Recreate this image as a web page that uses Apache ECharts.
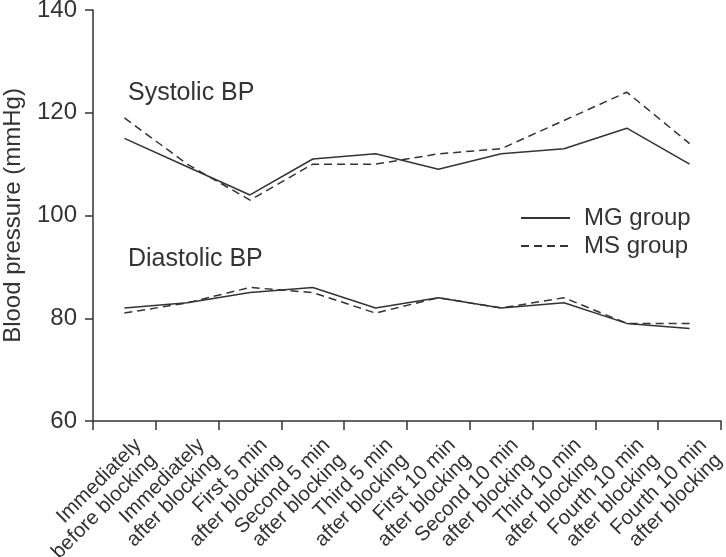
<!DOCTYPE html>
<html>
<head>
<meta charset="utf-8">
<script src="https://cdn.jsdelivr.net/npm/echarts@6/dist/echarts.min.js"></script>
<style>
html,body{margin:0;padding:0;background:#fff;}
#chart{width:726px;height:557px;}
</style>
</head>
<body>
<div id="chart"></div>
<script>
var categories = [
  "Immediately\nbefore blocking",
  "Immediately\nafter blocking",
  "First 5 min\nafter blocking",
  "Second 5 min\nafter blocking",
  "Third 5 min\nafter blocking",
  "First 10 min\nafter blocking",
  "Second 10 min\nafter blocking",
  "Third 10 min\nafter blocking",
  "Fourth 10 min\nafter blocking",
  "Fourth 10 min\nafter blocking"
];
var mgSystolic  = [115, 109.5, 104, 111, 112, 109, 112, 113, 117, 110];
var msSystolic  = [119, 110, 103, 110, 110, 112, 113, 118.5, 124, 114];
var mgDiastolic = [82, 83, 85, 86, 82, 84, 82, 83, 79, 78];
var msDiastolic = [81, 83, 86, 85, 81, 84, 82, 84, 79, 79];
var yTicks = [60, 80, 100, 120, 140];

var FONT = '"Liberation Sans", Arial, Helvetica, sans-serif';
var INK = '#333333';

var chart = echarts.init(document.getElementById('chart'), null, {renderer: 'canvas'});
var solid = {color: INK, width: 1.5, type: 'solid'};
var dashed = {color: INK, width: 1.5, type: [8, 5]};
function line(name, data, style) {
  return {
    name: name, type: 'line', data: data, symbol: 'none', silent: true,
    itemStyle: {color: INK}, lineStyle: style, animation: false
  };
}
chart.setOption({
  animation: false,
  textStyle: {fontFamily: FONT, color: INK},
  grid: {left: 93, right: 5, top: 10, bottom: 136, containLabel: false, outerBoundsMode: 'none'},
  legend: {
    orient: 'vertical', left: 515, top: 201, padding: 5,
    itemWidth: 49, itemHeight: 14, itemGap: 4,
    selectedMode: false,
    itemStyle: {opacity: 0},
    data: [
      {name: 'MG group'},
      {name: 'MS group'}
    ],
    textStyle: {fontFamily: FONT, fontSize: 24, color: INK, padding: [0, 0, 0, 9]}
  },
  xAxis: {
    type: 'category', data: categories, boundaryGap: true,
    axisLine: {lineStyle: {color: INK, width: 1.5}},
    axisTick: {show: true, length: 9, inside: false, alignWithLabel: false, interval: 0, lineStyle: {color: INK, width: 1.5}},
    axisLabel: {
      interval: 0, rotate: 45, fontSize: 20.5, lineHeight: 21.5, margin: 7,
      align: 'right', verticalAlign: 'top', padding: [9, 0, 0, 0],
      color: INK, fontFamily: FONT
    },
    splitLine: {show: false}
  },
  yAxis: {
    type: 'value', min: yTicks[0], max: yTicks[yTicks.length - 1], interval: 20,
    name: 'Blood pressure (mmHg)', nameLocation: 'middle', nameGap: 68,
    nameTextStyle: {fontSize: 24, color: INK, fontFamily: FONT},
    axisLine: {show: true, lineStyle: {color: INK, width: 1.5}},
    axisTick: {show: true, length: 8, lineStyle: {color: INK, width: 1.5}},
    axisLabel: {fontSize: 24, margin: 16, color: INK, fontFamily: FONT},
    splitLine: {show: false}
  },
  graphic: [
    {type: 'text', x: 128, y: 93, silent: true,
     style: {text: 'Systolic BP', font: '25px ' + FONT, fill: INK, verticalAlign: 'middle'}},
    {type: 'text', x: 128, y: 259, silent: true,
     style: {text: 'Diastolic BP', font: '25px ' + FONT, fill: INK, verticalAlign: 'middle'}}
  ],
  series: [
    line('MG group', mgSystolic, solid),
    line('MS group', msSystolic, dashed),
    line('MG group', mgDiastolic, solid),
    line('MS group', msDiastolic, dashed)
  ]
});
</script>
</body>
</html>
